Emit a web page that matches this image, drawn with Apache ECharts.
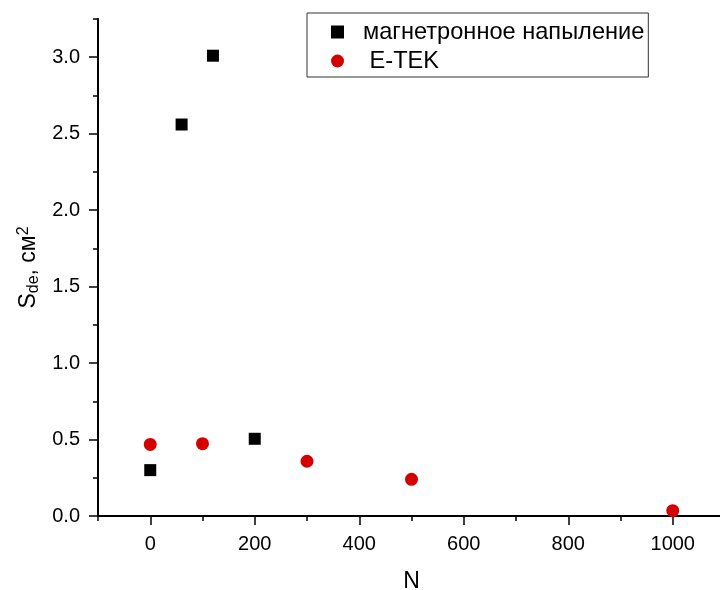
<!DOCTYPE html>
<html>
<head>
<meta charset="utf-8">
<script src="https://cdn.jsdelivr.net/npm/echarts@6/dist/echarts.min.js"></script>
<style>html,body{margin:0;padding:0;background:#fff}#c{width:720px;height:590px}</style>
</head>
<body>
<div id="c"></div>
<script>
// Data
var magnetronName = 'магнетронное напыление';
var etekName = ' E-TEK';
var magnetronX = [0, 60, 120, 200];
var magnetronY = [0.30, 2.56, 3.01, 0.505];
var etekX = [0, 100, 300, 500, 1000];
var etekY = [0.468, 0.473, 0.358, 0.240, 0.035];
var xMajorTicks = [0, 200, 400, 600, 800, 1000];
var xMinorTicks = [-100, 100, 300, 500, 700, 900, 1100];
var yMajorTicks = [0, 0.5, 1.0, 1.5, 2.0, 2.5, 3.0];
var yMinorTicks = [0.25, 0.75, 1.25, 1.75, 2.25, 2.75, 3.25];

function pairs(xs, ys) { return xs.map(function (x, i) { return [x, ys[i]]; }); }

var FONT = 'Liberation Sans, Arial, sans-serif';
var chart = echarts.init(document.getElementById('c'), null, {renderer: 'canvas'});
var lineStyle = {color: '#000', width: 2};
chart.setOption({
  animation: false,
  backgroundColor: '#fff',
  textStyle: {fontFamily: FONT},
  grid: {left: 98, top: 19, width: 627, height: 497, containLabel: false, outerBoundsMode: 'none'},
  legend: {
    orient: 'vertical',
    left: 307, top: 13,
    padding: [7, 4, 4, 24],
    borderColor: '#333', borderWidth: 1,
    itemWidth: 13, itemHeight: 13, itemGap: 5,
    textStyle: {fontFamily: FONT, fontSize: 23.6, color: '#000', padding: [0, 0, 0, 14]},
    data: [{name: magnetronName, icon: 'rect'}, {name: etekName, icon: 'circle'}]
  },
  xAxis: [{
    type: 'value', min: -100, max: 1100, position: 'bottom',
    name: 'N', nameLocation: 'middle', nameGap: 54,
    nameTextStyle: {fontSize: 23, color: '#000', fontFamily: FONT},
    axisLine: {show: true, onZero: false, lineStyle: lineStyle},
    axisTick: {show: true, customValues: xMajorTicks, length: 9, lineStyle: {color: '#000', width: 1.5}},
    axisLabel: {customValues: xMajorTicks, fontSize: 20, color: '#000', margin: 18, fontFamily: FONT,
      formatter: function (v) { return String(v); }},
    splitLine: {show: false}
  }, {
    type: 'value', min: -100, max: 1100, position: 'bottom', gridIndex: 0,
    axisLine: {show: false, onZero: false},
    axisTick: {show: true, customValues: xMinorTicks, length: 5, lineStyle: {color: '#000', width: 1.5}},
    axisLabel: {show: false},
    splitLine: {show: false}
  }],
  yAxis: [{
    type: 'value', min: 0, max: 3.25, position: 'left',
    name: '{b|S}{s|de}{b|, см}{p|2}', nameLocation: 'middle', nameGap: 56, nameRotate: 90,
    nameTextStyle: {
      color: '#000',
      rich: {
        b: {fontSize: 23, fontFamily: FONT, color: '#000'},
        s: {fontSize: 16, fontFamily: FONT, color: '#000', verticalAlign: 'bottom', padding: [10, 0, 0, 0]},
        p: {fontSize: 16, fontFamily: FONT, color: '#000', verticalAlign: 'top', padding: [0, 0, 10, 0]}
      }
    },
    axisLine: {show: true, onZero: false, lineStyle: lineStyle},
    axisTick: {show: true, customValues: yMajorTicks, length: 9, lineStyle: {color: '#000', width: 1.5}},
    axisLabel: {customValues: yMajorTicks, fontSize: 20, color: '#000', margin: 18, fontFamily: FONT,
      formatter: function (v) { return v.toFixed(1); }},
    splitLine: {show: false}
  }, {
    type: 'value', min: 0, max: 3.25, position: 'left', gridIndex: 0,
    axisLine: {show: false, onZero: false},
    axisTick: {show: true, customValues: yMinorTicks, length: 5, lineStyle: {color: '#000', width: 1.5}},
    axisLabel: {show: false},
    splitLine: {show: false}
  }],
  series: [{
    name: magnetronName, type: 'scatter', symbol: 'rect', symbolSize: 12,
    itemStyle: {color: '#000', opacity: 1},
    data: pairs(magnetronX, magnetronY)
  }, {
    name: etekName, type: 'scatter', symbol: 'circle', symbolSize: 13,
    itemStyle: {color: '#d40000', opacity: 1},
    data: pairs(etekX, etekY)
  }]
});
</script>
</body>
</html>
